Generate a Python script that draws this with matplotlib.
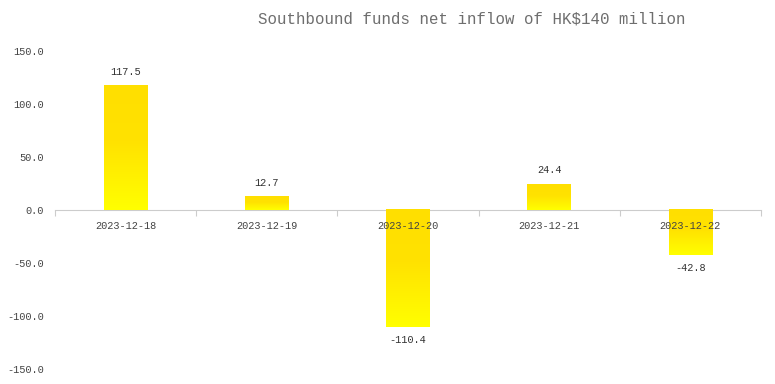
import numpy as np
import matplotlib.pyplot as plt
from matplotlib.colors import LinearSegmentedColormap

dates = ["2023-12-18", "2023-12-19", "2023-12-20", "2023-12-21", "2023-12-22"]
values = [117.5, 12.7, -110.4, 24.4, -42.8]
yticks = [-150, -100, -50, 0, 50, 100, 150]
title = "Southbound funds net inflow of HK$140 million"

mono = ["Liberation Mono", "DejaVu Sans Mono"]

fig = plt.figure(figsize=(7.75, 3.84), dpi=100)
ax = fig.add_axes([55 / 775, 1 - 369 / 384, 706 / 775, 318 / 384])

# gold at top -> yellow at bottom
cmap = LinearSegmentedColormap.from_list(
    "gold", [(0, "#ffdf00"), (0.45, "#ffe200"), (1, "#ffff00")])
grad = np.linspace(0, 1, 256).reshape(-1, 1)

width = 0.31
for i, v in enumerate(values):
    x0, x1 = i - width / 2, i + width / 2
    ax.imshow(grad, cmap=cmap, extent=[x0, x1, min(v, 0), max(v, 0)],
              aspect="auto", origin="upper", zorder=1)
    if v >= 0:
        ax.text(i, v + 13, f"{v:.1f}", ha="center", va="center",
                fontsize=7.4, color="#333333", family=mono)
    else:
        ax.text(i, v - 12, f"{v:.1f}", ha="center", va="center",
                fontsize=7.4, color="#333333", family=mono)

ax.set_xlim(-0.5, len(dates) - 0.5)
ax.set_ylim(-150, 150)
ax.xaxis.set_zorder(3)

for s in ["top", "right", "left"]:
    ax.spines[s].set_visible(False)
ax.spines["bottom"].set_position(("data", 0))
ax.spines["bottom"].set_color("#cccccc")
ax.spines["bottom"].set_zorder(0.5)

ax.set_xticks(np.arange(-0.5, len(dates), 1.0))
ax.set_xticklabels([])
ax.set_xticks(np.arange(len(dates)), minor=True)
ax.set_xticklabels(dates, minor=True, fontsize=7.4, color="#444444", family=mono)
ax.tick_params(axis="x", which="major", length=4, color="#cccccc", direction="out")
ax.tick_params(axis="x", which="minor", length=0, pad=8)

ax.set_yticks(yticks)
ax.set_yticklabels([f"{t:.1f}" for t in yticks], fontsize=7.4, color="#444444", family=mono)
ax.tick_params(axis="y", length=0, pad=8)

fig.text(472 / 775, 1 - 19 / 384, title, ha="center", va="center",
         fontsize=11.3, color="#6e6e6e", family=mono)

fig.savefig("out.png", dpi=100)
